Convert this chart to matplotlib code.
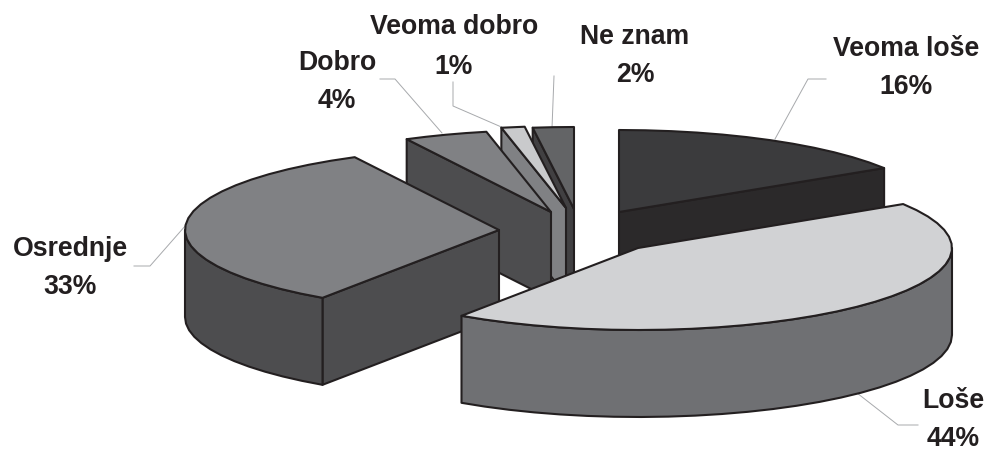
import numpy as np
import matplotlib
matplotlib.use('Agg')
import matplotlib.pyplot as plt
from matplotlib.patches import Polygon

# Data (shares in %, labels show them rounded)
names = ['Veoma loše', 'Loše', 'Osrednje', 'Dobro', 'Veoma dobro', 'Ne znam']
shares = [16.0, 43.5, 32.9, 4.3, 1.2, 2.1]

# Colours: top face, side face
top_colors = ['#3b3b3d', '#d1d2d4', '#808184', '#808184', '#c9cacc', '#636466']
side_colors = ['#2b292a', '#6f7073', '#4d4d4f', '#4d4d4f', '#808184', '#414042']

# Layout in pixels of the reference
centers = [(619, 212), (638, 248), (499, 230), (551, 212), (566, 208), (574, 209)]
rx, ry = 314, 82
depth = 87
draw_order = [5, 4, 3, 0, 2, 1]
label_xy = [(906, 68), (953, 420), (70, 268), (337, 82), (454, 47), (635, 56)]
leaders = [
    [(775, 139), (808, 79), (826, 79)],
    [(857, 393), (898, 425), (918, 425)],
    [(552, 128), (554, 76)],
    [(506, 129), (453, 106), (453, 82)],
    [(442, 133), (395, 79), (380, 79)],
    [(186, 225), (150, 266), (134, 266)],
]

EDGE = '#231f20'
LW = 1.5


def arc(cx, cy, a1, a2, step=5.0):
    # angles in degrees, clockwise from twelve o'clock
    n = max(int(np.ceil((a2 - a1) / step)), 1)
    a = np.radians(np.linspace(a1, a2, n + 1))
    return np.column_stack([cx + rx * np.sin(a), cy - ry * np.cos(a)])


def face(ax, pts, color):
    ax.add_patch(Polygon(pts, closed=True, facecolor=color, edgecolor=EDGE,
                         linewidth=LW, joinstyle='round'))


def extrude(pts):
    return np.vstack([pts, pts[::-1] + [0, depth]])


plt.rcParams['font.family'] = ['Liberation Sans', 'DejaVu Sans']
fig = plt.figure(figsize=(9.87, 4.54), dpi=100)
ax = fig.add_axes([0, 0, 1, 1])
ax.set_xlim(0, 987)
ax.set_ylim(454, 0)
ax.axis('off')

edges = np.concatenate([[0], np.cumsum(shares)]) * 3.6
edges[-1] = 360.0

for i in draw_order:
    a1, a2 = edges[i], edges[i + 1]
    cx, cy = centers[i]
    c = np.array([[cx, cy]], dtype=float)
    rim = arc(cx, cy, a1, a2)

    # cut faces that look towards the viewer
    if np.sin(np.radians(a1)) < -1e-6:
        face(ax, extrude(np.vstack([c, rim[:1]])), side_colors[i])
    if np.sin(np.radians(a2)) > 1e-6:
        face(ax, extrude(np.vstack([c, rim[-1:]])), side_colors[i])

    # outer wall, front half only
    lo, hi = max(a1, 90), min(a2, 270)
    if hi > lo:
        face(ax, extrude(arc(cx, cy, lo, hi)), side_colors[i])

    face(ax, np.vstack([c, rim]), top_colors[i])

for line in leaders:
    xs, ys = zip(*line)
    ax.plot(xs, ys, color='#a7a9ac', lw=0.7, solid_joinstyle='miter', zorder=0.5)

for name, share, (x, y) in zip(names, shares, label_xy):
    ax.text(x, y, '%s\n%d%%' % (name, round(share)), ha='center', va='center',
            fontsize=19.2, fontweight='bold', color=EDGE, linespacing=1.65)

fig.savefig('out.png', dpi=100)
